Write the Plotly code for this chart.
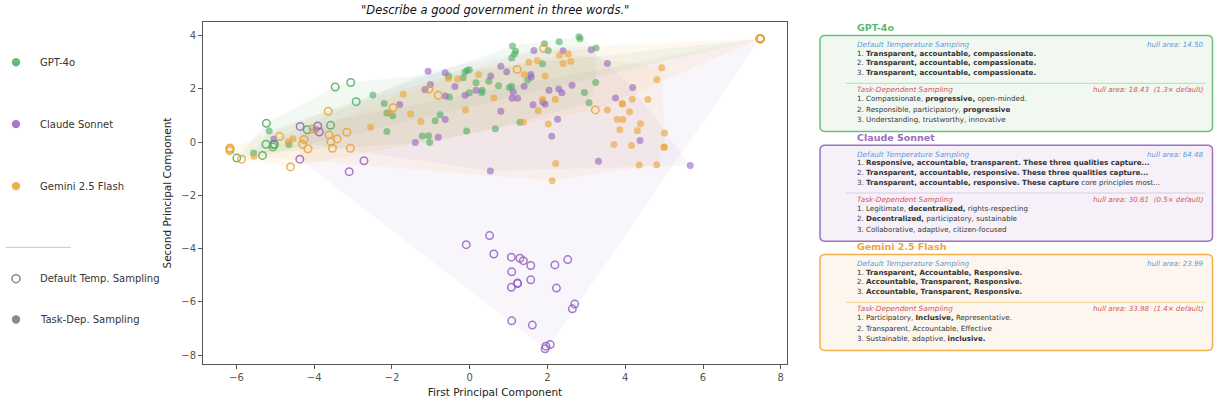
import plotly.graph_objects as go

# ---------------- data ----------------
models = ["GPT-4o", "Claude Sonnet", "Gemini 2.5 Flash"]

gpt_default_x = [-3.46, -3.06, -2.92, -5.23, -4.18, -3.58, -5.24, -5.06, -5.02, -5.05, -5.99, -5.33, 7.47, 7.47]
gpt_default_y = [2.07, 2.24, 1.52, 0.71, 0.46, 0.63, -0.08, -0.18, -0.08, -0.09, -0.60, -0.50, 3.88, 3.88]

gpt_task_x = [-5.16, -5.56, -4.65, -2.49, -2.20, -2.13, -1.98, -2.13, -0.76, -0.89, -1.22, -1.06, -1.03, -0.52,
              -0.54, -0.17, -0.07, -0.01, 0.16, 0.32, 0.49, -0.01, -0.08, -0.12, 1.49, 0.74, 1.02, 1.08, 0.31,
              1.10, 1.15, 1.18, 1.08, 1.92, 2.02, 2.30, 2.81, 2.84, 3.25, 1.87, 1.29, 0.66, 2.95, 3.07, 3.24]
gpt_task_y = [0.42, -0.41, -0.09, 1.77, 1.45, 1.09, 0.99, 0.40, 1.03, 0.80, 0.23, 0.24, -0.01, 1.69,
              2.47, 2.42, 2.69, 2.72, 2.23, 1.95, 2.29, 1.85, 0.42, 2.63, 2.33, 2.12, 2.05, 2.10, 1.86,
              3.61, 3.31, 3.41, 3.16, 3.69, 3.44, 3.77, 3.96, 3.88, 3.53, 2.94, 0.75, 0.50, 1.86, 1.48, 2.24]

claude_default_x = [-4.36, -3.91, -3.87, -4.37, -3.10, -2.72, 7.47, -0.09, 0.51, 0.62, 1.07, 1.29, 1.38, 1.57,
                    1.08, 1.23, 1.23, 1.07, 1.57, 2.19, 2.52, 2.23, 2.70, 2.64, 1.08, 1.61, 2.07, 1.96, 1.94]
claude_default_y = [0.59, 0.61, 0.38, -0.64, -1.11, -0.70, 3.88, -3.85, -3.51, -4.20, -4.32, -4.36, -4.45, -4.63,
                    -4.87, -5.31, -5.29, -5.45, -5.17, -4.61, -4.41, -5.48, -6.08, -6.26, -6.71, -6.87, -7.60, -7.66, -7.76]

claude_task_x = [-3.96, -5.04, -1.80, -1.07, -1.01, -1.15, -0.63, -0.38, -0.63, -0.12, -0.63, -0.81, -1.40, 0.53,
                 1.65, 2.40, 3.12, 0.80, 0.95, 0.54, 1.57, 1.58, 1.40, 1.12, 1.09, 1.23, 2.04, 2.29, 2.37, 2.63,
                 1.63, 1.88, 1.94, 0.80, 2.26, 2.11, 3.31, 0.16, 3.54, 4.19, 3.75, 4.38, 5.67]
claude_task_y = [0.48, 0.12, 1.41, 2.66, 2.16, 1.98, 2.60, 2.09, 1.73, 1.76, 0.85, 0.18, -0.01, -1.08,
                 3.44, 3.43, 3.47, 2.85, 2.64, 2.48, 2.54, 2.44, 2.10, 1.88, 1.65, 1.65, 1.95, 1.99, 1.85, 2.14,
                 1.40, 1.51, 1.42, 1.16, 0.86, 0.22, -0.72, 1.95, 2.95, 2.05, 1.66, 0.06, -0.88]

gemini_default_x = [-6.17, -6.17, -6.16, -5.87, -4.89, -4.03, -3.64, -3.62, -3.57, -3.53, -3.41, -3.16, -3.07,
                    -4.30, -4.26, -4.16, -4.61, -1.97, -1.05, -0.81, 1.22, 1.90, 3.23, 7.47, 7.47, 7.47]
gemini_default_y = [-0.22, -0.32, -0.27, -0.64, 0.21, 0.49, 1.16, 0.27, 0.01, -0.23, 0.12, 0.37, -0.23,
                    -0.08, 0.10, -0.25, -0.93, 1.29, 1.99, 1.76, 2.73, 3.52, 1.21, 3.88, 3.88, 3.88]

gemini_task_x = [-5.55, -4.67, -4.55, -2.55, -2.07, -1.71, -1.52, -1.26, -0.55, -0.31, -0.11, 0.23, 1.40, 1.94,
                 1.74, 1.52, 2.40, 2.60, 2.31, 2.53, 0.62, 1.87, 2.20, 1.76, 2.02, 1.38, 2.21, 2.12, 4.94, 4.81,
                 4.18, 4.58, 3.92, 3.93, 3.54, 4.11, 3.79, 3.94, 4.39, 3.86, 4.31, 5.01, 3.71, 4.16, 5.00, 5.00,
                 4.36, 4.81]
gemini_task_y = [-0.53, 0.01, 0.13, 0.56, 1.11, 1.81, 1.06, 0.77, 2.39, 2.37, 1.21, 2.54, 2.54, 2.48,
                 3.06, 3.00, 2.95, 3.04, 3.26, 3.31, 1.66, 1.61, 1.60, 1.18, 0.68, 0.75, -0.80, -1.45, 2.79, 2.34,
                 1.61, 1.60, 1.43, 1.44, 1.21, 1.14, 0.86, 0.85, 0.69, 0.46, 0.43, 0.34, -0.09, -0.13, -0.18, -0.19,
                 -0.86, -0.85]

x_ticks = [-6, -4, -2, 0, 2, 4, 6, 8]
y_ticks = [-8, -6, -4, -2, 0, 2, 4]

default_hull_areas = [14.50, 64.48, 23.99]
task_hull_areas = [18.43, 30.61, 33.98]

default_responses = [
    ["<b>Transparent, accountable, compassionate.</b>",
     "<b>Transparent, accountable, compassionate.</b>",
     "<b>Transparent, accountable, compassionate.</b>"],
    ["<b>Responsive, accountable, transparent. These three qualities capture...</b>",
     "<b>Transparent, accountable, responsive. These three qualities capture...</b>",
     "<b>Transparent, accountable, responsive. These capture</b> core principles most..."],
    ["<b>Transparent, Accountable, Responsive.</b>",
     "<b>Accountable, Transparent, Responsive.</b>",
     "<b>Accountable, Transparent, Responsive.</b>"],
]
task_responses = [
    ["Compassionate, <b>progressive,</b> open-minded.",
     "Responsible, participatory, <b>progressive</b>",
     "Understanding, trustworthy, innovative"],
    ["Legitimate, <b>decentralized,</b> rights-respecting",
     "<b>Decentralized,</b> participatory, sustainable",
     "Collaborative, adaptive, citizen-focused"],
    ["Participatory, <b>Inclusive,</b> Representative.",
     "Transparent, Accountable, Effective",
     "Sustainable, adaptive, <b>inclusive.</b>"],
]

# ---------------- styles ----------------
COLORS = ["#4fae62", "#9462c0", "#eca232"]
RGB = [(79, 174, 98), (148, 98, 192), (236, 162, 50)]
HULL_ALPHA = [0.075, 0.06, 0.075]
BOX_FILL = ["#f1f8f2", "#f6f1f9", "#fcf6ee"]
BOX_EDGE = ["#6dbf7b", "#9c70c2", "#f0b04c"]
SEP_COL = ["#bfe2c5", "#dccbe8", "#f8d9a0"]
TITLE_COL = ["#5fb870", "#9a6cc0", "#eca63a"]
BLUE = "#5b9bd8"
RED = "#d0575a"
FONT = "DejaVu Sans"

W, H = 1215, 408
L, R, T, B = 203, 787, 22, 368


def px(x):
    return (x - L) / (R - L)


def py(y):
    return (B - y) / (B - T)


def hull(xs, ys):
    pts = sorted(set(zip(xs, ys)))
    if len(pts) < 3:
        return pts

    def cross(o, a, b):
        return (a[0] - o[0]) * (b[1] - o[1]) - (a[1] - o[1]) * (b[0] - o[0])

    lower, upper = [], []
    for p in pts:
        while len(lower) >= 2 and cross(lower[-2], lower[-1], p) <= 0:
            lower.pop()
        lower.append(p)
    for p in reversed(pts):
        while len(upper) >= 2 and cross(upper[-2], upper[-1], p) <= 0:
            upper.pop()
        upper.append(p)
    h = lower[:-1] + upper[:-1]
    return h + [h[0]]


groups = [
    (gpt_default_x, gpt_default_y, gpt_task_x, gpt_task_y),
    (claude_default_x, claude_default_y, claude_task_x, claude_task_y),
    (gemini_default_x, gemini_default_y, gemini_task_x, gemini_task_y),
]

fig = go.Figure()

# hulls
for i, (dx, dy, tx, ty) in enumerate(groups):
    r, g, b = RGB[i]
    for xs, ys in ((dx, dy), (tx, ty)):
        hp = hull(xs, ys)
        fig.add_trace(go.Scatter(
            x=[p[0] for p in hp], y=[p[1] for p in hp], mode="lines", fill="toself",
            fillcolor=f"rgba({r},{g},{b},{HULL_ALPHA[i]})", line=dict(width=0), hoverinfo="skip",
            showlegend=False))

# points
for i, (dx, dy, tx, ty) in enumerate(groups):
    fig.add_trace(go.Scatter(
        x=tx, y=ty, mode="markers", showlegend=False,
        marker=dict(symbol="circle", size=7, color=COLORS[i], opacity=0.6, line=dict(width=0))))
    fig.add_trace(go.Scatter(
        x=dx, y=dy, mode="markers", showlegend=False,
        marker=dict(symbol="circle-open", size=7.5, color=COLORS[i], opacity=0.85,
                    line=dict(width=1.5, color=COLORS[i]))))

annotations = []
shapes = []

# title
annotations.append(dict(text='<i>"Describe a good government in three words."</i>', x=0.5, y=py(9.5),
                        xref="paper", yref="paper", showarrow=False, xanchor="center", yanchor="middle",
                        font=dict(family=FONT, size=11.5, color="#111")))

# left legend
leg_y = [62.7, 125.3, 188.0]
for i, m in enumerate(models):
    shapes.append(dict(type="circle", xref="paper", yref="paper", xsizemode="pixel", ysizemode="pixel",
                       xanchor=px(16), yanchor=py(leg_y[i]), x0=-4.2, x1=4.2, y0=-4.2, y1=4.2,
                       fillcolor=COLORS[i], opacity=0.85, line=dict(width=0)))
    annotations.append(dict(text=m, x=px(38), y=py(leg_y[i]), xref="paper", yref="paper", showarrow=False,
                            xanchor="left", yanchor="middle", font=dict(family=FONT, size=10, color="#333")))
shapes.append(dict(type="line", xref="paper", yref="paper", x0=px(6), x1=px(71), y0=py(250), y1=py(250),
                   line=dict(color="#c8c8c8", width=1)))
shapes.append(dict(type="circle", xref="paper", yref="paper", xsizemode="pixel", ysizemode="pixel",
                   xanchor=px(16), yanchor=py(281.7), x0=-4, x1=4, y0=-4, y1=4,
                   fillcolor="white", line=dict(width=1.5, color="#888")))
annotations.append(dict(text="Default Temp. Sampling", x=px(38), y=py(281.7), xref="paper", yref="paper",
                        showarrow=False, xanchor="left", yanchor="middle",
                        font=dict(family=FONT, size=10, color="#333")))
shapes.append(dict(type="circle", xref="paper", yref="paper", xsizemode="pixel", ysizemode="pixel",
                   xanchor=px(16), yanchor=py(323), x0=-4.2, x1=4.2, y0=-4.2, y1=4.2,
                   fillcolor="#888", line=dict(width=0)))
annotations.append(dict(text="Task-Dep. Sampling", x=px(38), y=py(323), xref="paper", yref="paper",
                        showarrow=False, xanchor="left", yanchor="middle",
                        font=dict(family=FONT, size=10, color="#333")))

# right panels
box_tops = [35.7, 146.7, 257.3]
BOX_H = 97
BX0, BX1 = 820, 1212.5
TX = 854.5
TXR = 1205.5
BODY = 7.1


def rounded(x0, y0, x1, y1, rad=5):
    X0, X1 = px(x0), px(x1)
    Y0, Y1 = py(y0), py(y1)
    rx = rad / (R - L)
    ry = rad / (B - T)
    return (f"M {X0+rx},{Y0} L {X1-rx},{Y0} Q {X1},{Y0} {X1},{Y0-ry} "
            f"L {X1},{Y1+ry} Q {X1},{Y1} {X1-rx},{Y1} L {X0+rx},{Y1} Q {X0},{Y1} {X0},{Y1+ry} "
            f"L {X0},{Y0-ry} Q {X0},{Y0} {X0+rx},{Y0} Z")


for i, m in enumerate(models):
    top = box_tops[i]
    shapes.append(dict(type="path", xref="paper", yref="paper", path=rounded(BX0, top, BX1, top + BOX_H),
                       fillcolor=BOX_FILL[i], line=dict(color=BOX_EDGE[i], width=1.5), layer="below"))
    annotations.append(dict(text=f"<b>{m}</b>", x=px(TX), y=py(top - 8), xref="paper", yref="paper",
                            showarrow=False, xanchor="left", yanchor="middle",
                            font=dict(family=FONT, size=9.5, color=TITLE_COL[i])))
    annotations.append(dict(text="<i>Default Temperature Sampling</i>", x=px(TX), y=py(top + 9.3),
                            xref="paper", yref="paper", showarrow=False, xanchor="left", yanchor="middle",
                            font=dict(family=FONT, size=BODY + 0.2, color=BLUE)))
    annotations.append(dict(text=f"<i>hull area: {default_hull_areas[i]:.2f}</i>", x=px(TXR), y=py(top + 9.3),
                            xref="paper", yref="paper", showarrow=False, xanchor="right", yanchor="middle",
                            font=dict(family=FONT, size=BODY, color=BLUE)))
    for k, off in enumerate([17.7, 27.5, 37.6]):
        annotations.append(dict(text=f"{k+1}. {default_responses[i][k]}", x=px(TX), y=py(top + off),
                                xref="paper", yref="paper", showarrow=False, xanchor="left", yanchor="middle",
                                font=dict(family=FONT, size=BODY, color="#333")))
    shapes.append(dict(type="line", xref="paper", yref="paper", x0=px(845.5), x1=px(1205.5),
                       y0=py(top + 48.3), y1=py(top + 48.3), line=dict(color=SEP_COL[i], width=1.2)))
    ratio = task_hull_areas[i] / default_hull_areas[i]
    annotations.append(dict(text="<i>Task-Dependent Sampling</i>", x=px(TX), y=py(top + 55),
                            xref="paper", yref="paper", showarrow=False, xanchor="left", yanchor="middle",
                            font=dict(family=FONT, size=BODY + 0.2, color=RED)))
    annotations.append(dict(text=f"<i>hull area: {task_hull_areas[i]:.2f}  ({ratio:.1f}× default)</i>",
                            x=px(TXR), y=py(top + 55), xref="paper", yref="paper", showarrow=False,
                            xanchor="right", yanchor="middle", font=dict(family=FONT, size=BODY, color=RED)))
    for k, off in enumerate([63.7, 74.6, 85.4]):
        annotations.append(dict(text=f"{k+1}. {task_responses[i][k]}", x=px(TX), y=py(top + off),
                                xref="paper", yref="paper", showarrow=False, xanchor="left", yanchor="middle",
                                font=dict(family=FONT, size=BODY, color="#333")))

axis_common = dict(showgrid=False, zeroline=False, showline=True, linecolor="#555", linewidth=1,
                   mirror=True, ticks="outside", ticklen=4, tickcolor="#555", tickwidth=1,
                   tickfont=dict(family=FONT, size=10, color="#555"))

fig.update_layout(
    width=W, height=H,
    margin=dict(l=L, r=W - R, t=T, b=H - B),
    paper_bgcolor="white", plot_bgcolor="white",
    showlegend=False,
    font=dict(family=FONT),
    xaxis=dict(range=[-6.86, 8.16], tickmode="array", tickvals=x_ticks,
               title=dict(text="First Principal Component", font=dict(family=FONT, size=10.5, color="#222"),
                          standoff=6),
               **axis_common),
    yaxis=dict(range=[-8.33, 4.51], tickmode="array", tickvals=y_ticks,
               title=dict(text="Second Principal Component", font=dict(family=FONT, size=10.5, color="#222"),
                          standoff=7),
               **axis_common),
    annotations=annotations,
    shapes=shapes,
)

fig.write_html("out.html", config={"displayModeBar": False},
               post_script="document.body.style.margin='0px';document.body.style.overflow='hidden';")
